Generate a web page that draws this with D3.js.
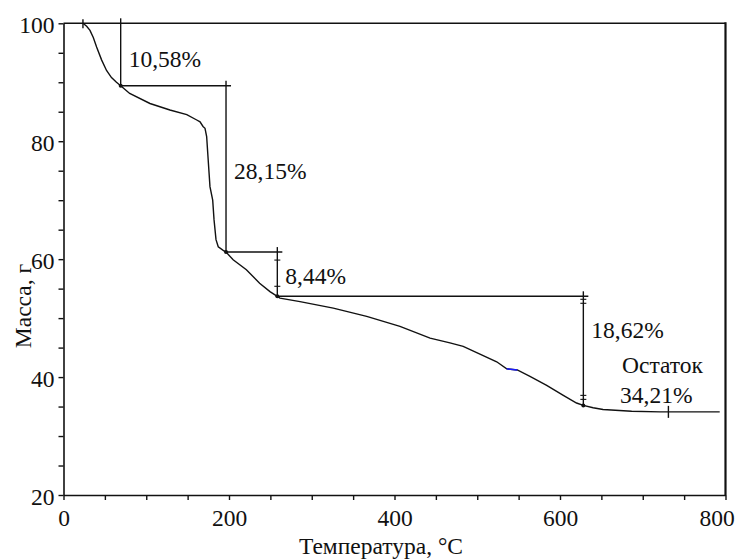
<!DOCTYPE html>
<html>
<head>
<meta charset="utf-8">
<script src="https://cdn.jsdelivr.net/npm/d3@7"></script>
<style>
  body { margin: 0; background: #fff; }
</style>
</head>
<body>
<svg id="chart" width="739" height="560"></svg>
<script>
// Thermogravimetric curve: temperature (°C) vs. sample mass
const temperature = [23.5, 28, 32, 36, 40, 46, 52, 58, 64, 69.1, 80, 104.5, 128.6, 149, 161, 165, 168.6, 171, 173,
  174.3, 177, 180.3, 181.9, 184.3, 187, 193, 196.4, 205, 221, 237, 249.5, 258.4, 261.6, 285.8,
  326, 366.4, 406.6, 443, 467, 483, 523.5, 535.6, 548.4, 563.7, 583.9, 604, 620, 628.2, 640,
  652, 686.6, 721, 793];
const mass = [100, 99.5, 98.8, 97.6, 96.0, 93.8, 92.0, 90.8, 90.0, 89.42, 88.1, 86.4, 85.3, 84.5, 83.6, 83.3, 82.5, 82.2, 80.8,
  78.0, 72.3, 70.0, 66.7, 63.3, 62.1, 61.5, 61.2, 59.9, 58.2, 55.9, 54.5, 53.7, 53.4, 52.8,
  51.7, 50.3, 48.6, 46.6, 45.8, 45.2, 42.6, 41.4, 41.2, 40.1, 38.6, 36.9, 35.6, 35.2, 34.8,
  34.5, 34.2, 34.1, 34.1];
// short stretch of the curve drawn in blue
const highlightRange = [535.6, 548.4];

// mass-loss steps: temperature of each step's vertical bracket and mass levels between steps
const stepTemps = [69.1, 196.4, 258.4, 628.2];
const stepLevels = [100, 89.42, 61.2, 53.7, 35.2];
const stepLabels = ["10,58%", "28,15%", "8,44%", "18,62%"];
const stepLabelMass = [92.6, 73.6, 55.8, 46.7];

// residue
const residueTemp = 731;
const residueMass = 34.1;
const residueLabels = ["Остаток", "34,21%"];

const xTicks = [0, 200, 400, 600, 800];
const yTicks = [20, 40, 60, 80, 100];
const xTitle = "Температура, °C";
const yTitle = "Масса, г";

const svg = d3.select("#chart");
const plotLeft = 63.5, plotRight = 725.5, plotTop = 23.3, plotBottom = 495;
const fs = 23.5;
const serif = "Liberation Serif";

const x = d3.scaleLinear().domain([0, 800]).range([plotLeft, plotRight]);
const y = d3.scaleLinear().domain([20, 100]).range([plotBottom, plotTop]);

// axes
const xAxis = d3.axisBottom(x)
  .tickValues(d3.range(0, 801, 50))
  .tickSize(5).tickSizeOuter(0).tickPadding(9)
  .tickFormat(d => xTicks.includes(d) ? d : "");
const gx = svg.append("g").attr("transform", `translate(0,${plotBottom})`).call(xAxis);
gx.selectAll("text").filter(d => d === 800).attr("dx", -9);

const yAxis = d3.axisLeft(y)
  .tickValues(d3.range(20, 101, 5))
  .tickSize(5).tickSizeOuter(0).tickPadding(4)
  .tickFormat(d => yTicks.includes(d) ? d : "");
const gy = svg.append("g").attr("transform", `translate(${plotLeft},0)`).call(yAxis);
gy.selectAll("text").attr("dy", "0.4em");

svg.selectAll(".domain").attr("stroke", "#111").attr("stroke-width", 1.6);
svg.selectAll(".tick line").attr("stroke", "#111").attr("stroke-width", 1.4);

// frame top and right
svg.append("line").attr("x1", plotLeft).attr("x2", plotRight).attr("y1", plotTop).attr("y2", plotTop)
  .attr("stroke", "#111").attr("stroke-width", 1.6);
svg.append("line").attr("x1", plotRight).attr("x2", plotRight).attr("y1", plotTop - 1).attr("y2", plotBottom)
  .attr("stroke", "#111").attr("stroke-width", 2.2);

// axis titles
svg.append("text").attr("x", 381).attr("y", 554).attr("text-anchor", "middle").text(xTitle);
svg.append("text").attr("transform", "translate(31,306) rotate(-90)").attr("text-anchor", "middle").text(yTitle);

// curve
const pts = temperature.map((t, i) => [t, mass[i]]);
const line = d3.line().x(d => x(d[0])).y(d => y(d[1]));
svg.append("path").datum(pts).attr("d", line)
  .attr("fill", "none").attr("stroke", "#111").attr("stroke-width", 1.4);
svg.append("path").datum(pts.filter(d => d[0] >= highlightRange[0] && d[0] <= highlightRange[1]))
  .attr("d", line).attr("fill", "none").attr("stroke", "#1a1aff").attr("stroke-width", 1.6);

// step brackets
const g = svg.append("g").attr("stroke", "#111").attr("stroke-width", 1.4);
stepTemps.forEach((t, i) => {
  const xv = x(t);
  g.append("line").attr("x1", xv).attr("x2", xv)
    .attr("y1", y(stepLevels[i]) - 5).attr("y2", y(stepLevels[i + 1]));
  if (i < stepTemps.length - 1) {
    g.append("line").attr("x1", xv).attr("x2", x(stepTemps[i + 1]) + 5)
      .attr("y1", y(stepLevels[i + 1])).attr("y2", y(stepLevels[i + 1]));
  }
  svg.append("circle").attr("cx", xv).attr("cy", y(stepLevels[i + 1])).attr("r", 2).attr("fill", "#111");
  if (i >= 2) {
    const y0 = y(stepLevels[i]), y1 = y(stepLevels[i + 1]);
    const marks = i === 3 ? [y0 + 3, y0 + 7, y1 - 6, y1 - 10] : [y0 + 8, y1 - 10];
    marks.forEach(m => g.append("line").attr("x1", xv - 3).attr("x2", xv + 3).attr("y1", m).attr("y2", m)
      .attr("stroke-width", 1.1));
  }
  svg.append("text").attr("x", xv + 8).attr("y", y(stepLabelMass[i])).text(stepLabels[i]);
});

// start marker and residue marker
g.append("line").attr("x1", x(temperature[0])).attr("x2", x(temperature[0]))
  .attr("y1", y(mass[0]) - 4).attr("y2", y(mass[0]) + 5);
g.append("line").attr("x1", x(residueTemp)).attr("x2", x(residueTemp))
  .attr("y1", y(residueMass) - 6).attr("y2", y(residueMass) + 6);

svg.append("text").attr("x", 622).attr("y", 373).text(residueLabels[0]);
svg.append("text").attr("x", 620).attr("y", 403).text(residueLabels[1]);

// common text style
svg.selectAll("g").attr("font-family", serif);
svg.selectAll("text")
  .attr("font-family", serif)
  .style("font-family", `"${serif}"`)
  .style("font-size", fs + "px")
  .attr("fill", "#111");
</script>
</body>
</html>
